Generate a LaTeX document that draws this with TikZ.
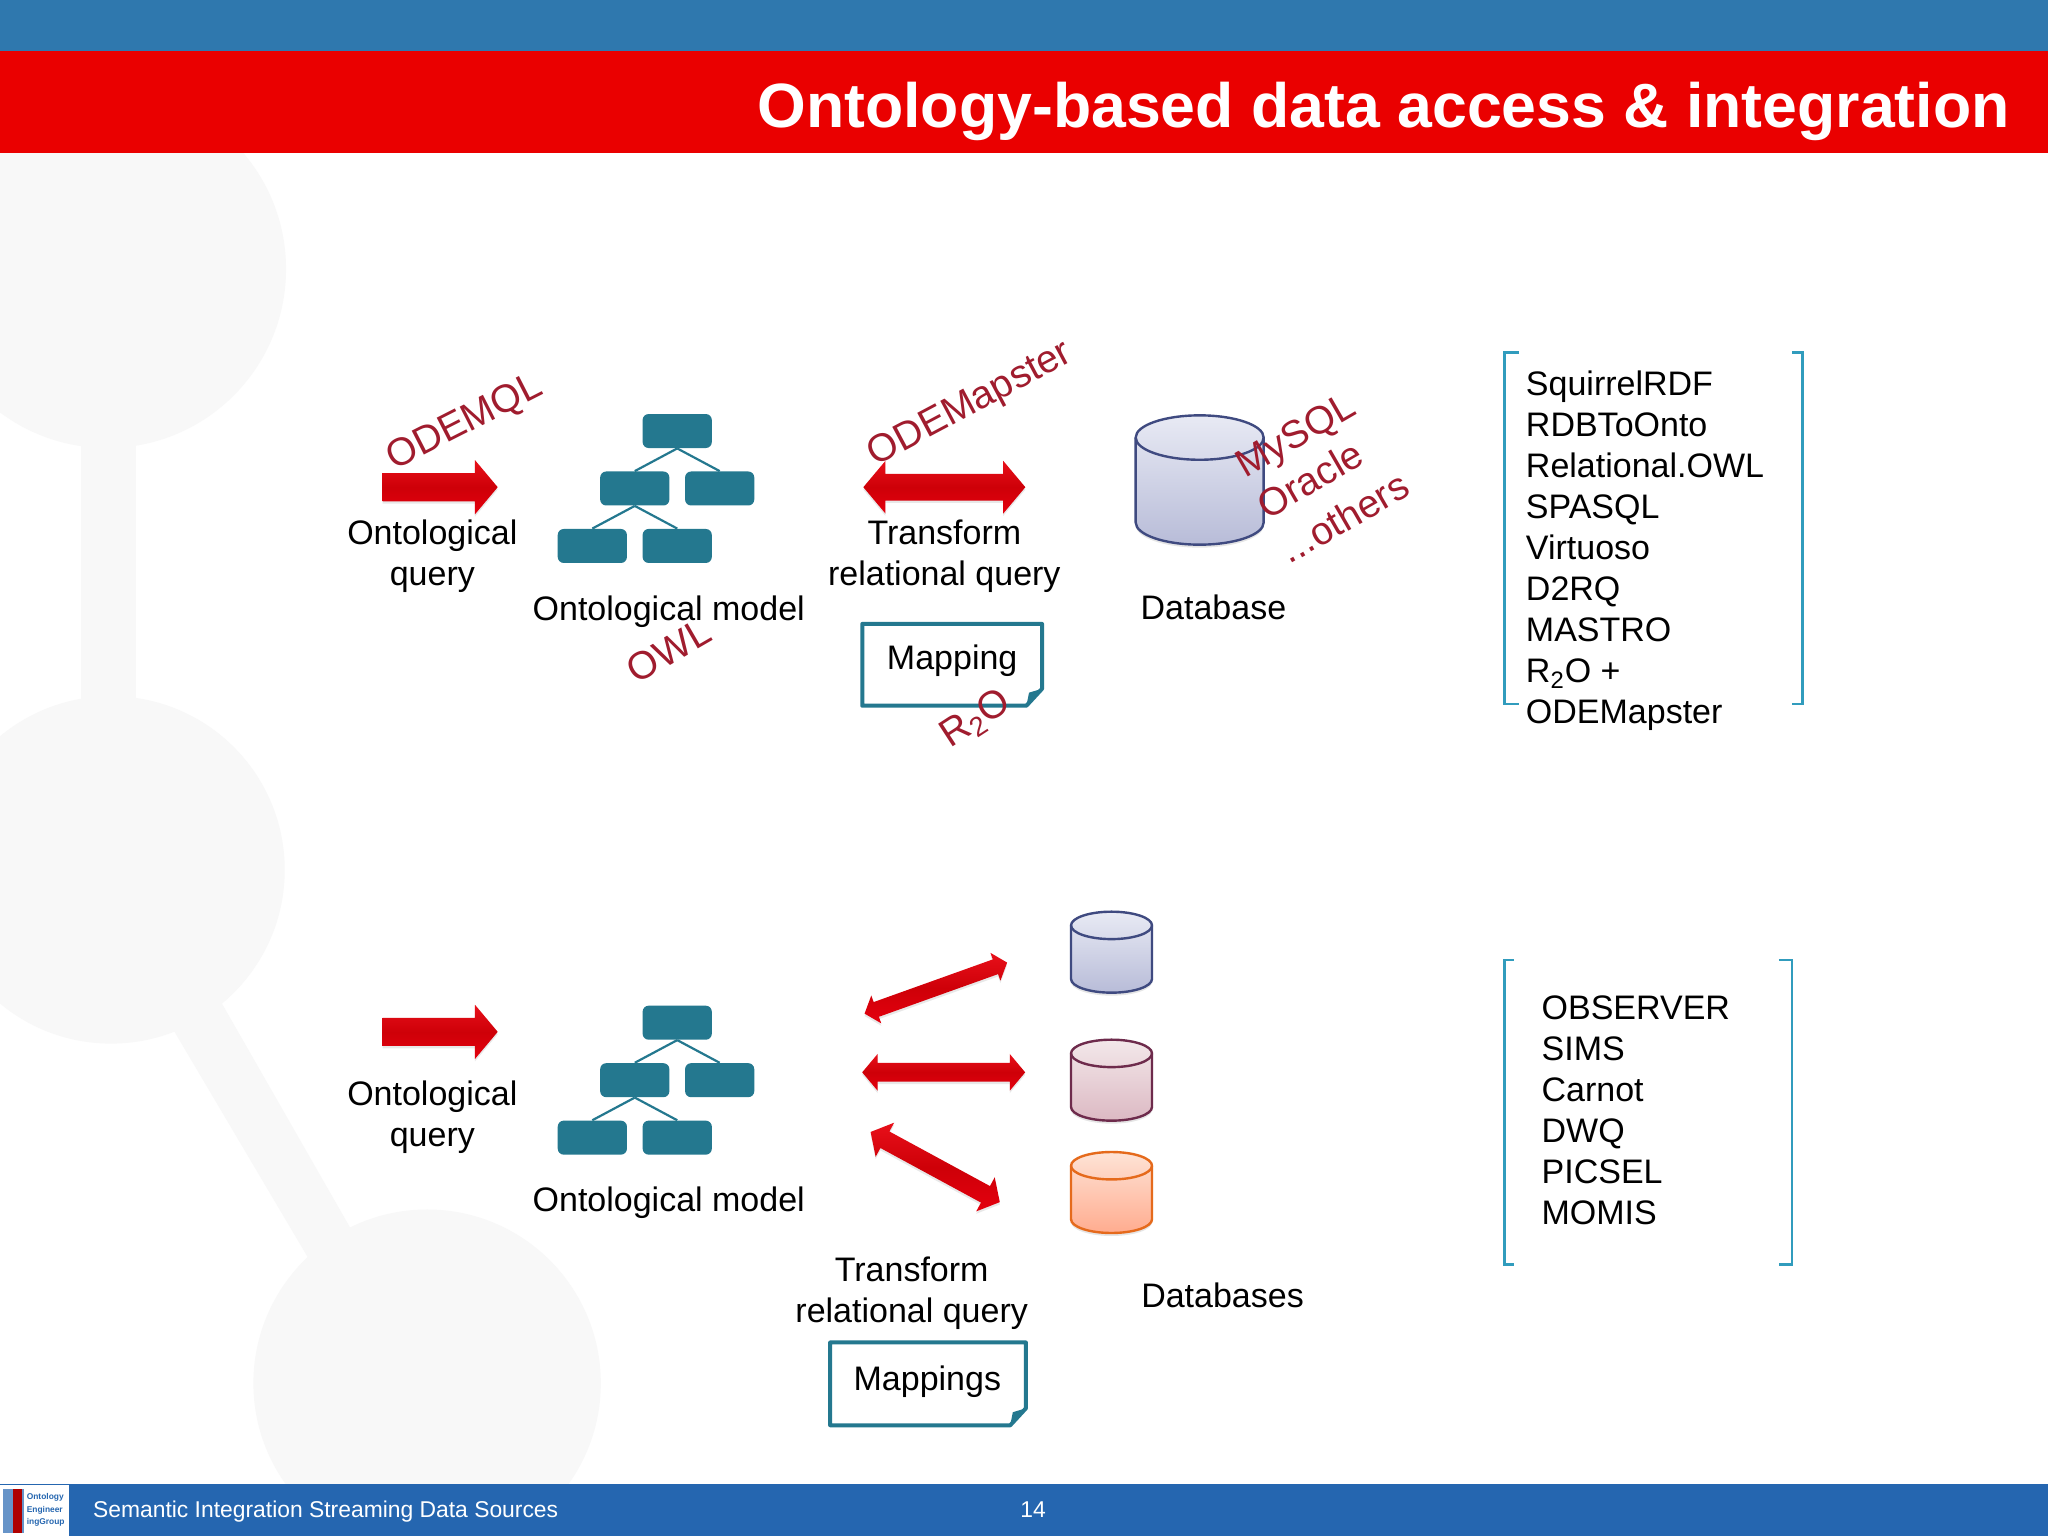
\documentclass[tikz,border=0pt]{standalone}
\usepackage{fontspec}
\setmainfont{Liberation Sans}
\usetikzlibrary{calc, shapes.arrows, shadows}
\definecolor{barblue}{HTML}{2F78AE}
\definecolor{barred}{HTML}{EA0000}
\definecolor{footblue}{HTML}{2566B0}
\definecolor{ghost}{HTML}{F8F8F8}
\definecolor{treeteal}{HTML}{24788F}
\definecolor{wine}{HTML}{A01C2E}
\definecolor{bracketblue}{HTML}{319CBD}
\definecolor{arrowtop}{HTML}{E8101A}
\definecolor{arrowmid}{HTML}{CE0008}
\definecolor{arrowlow}{HTML}{E4000E}
\definecolor{canblue}{HTML}{3F4A80}
\definecolor{canbluetop}{HTML}{E8EAF4}
\definecolor{canbluelow}{HTML}{B8BCD8}
\definecolor{canwine}{HTML}{6E2B4C}
\definecolor{canwinetop}{HTML}{F3E8EA}
\definecolor{canwinelow}{HTML}{DCB9C3}
\definecolor{canorange}{HTML}{E56A1C}
\definecolor{canorangetop}{HTML}{FEE3D6}
\definecolor{canorangelow}{HTML}{FFAC8F}
\tikzset{
    body/.style={font=\fontsize{17}{20.5}\selectfont, align=center, inner sep=0pt},
    listing/.style={font=\fontsize{17}{20.5}\selectfont, align=left, anchor=west, inner sep=0pt},
    tool/.style={font=\fontsize{19.5}{22}\selectfont, color=wine, rotate=#1, inner sep=0pt},
    treebox/.style={fill=treeteal, rounded corners=3pt, minimum width=34.6pt, minimum height=17pt, inner sep=0pt},
    treeline/.style={draw=treeteal, line width=1.1pt},
    docline/.style={draw=treeteal, line width=2pt, line join=round},
    brace/.style={draw=bracketblue, line width=1.2pt},
    redarrow/.style={inner sep=0pt, outer sep=0pt, text depth=0pt, text width=0pt, text height=#1,
        bottom color=arrowlow, top color=arrowtop, middle color=arrowmid,
        drop shadow={opacity=.18, shadow xshift=0pt, shadow yshift=-1.2pt}},
    oneway/.style 2 args={single arrow, redarrow=#1, single arrow head extend=#2,
        single arrow head indent=0pt, single arrow tip angle=100},
    twoway/.style 2 args={double arrow, redarrow=#1, double arrow head extend=#2,
        double arrow head indent=0pt, double arrow tip angle=100},
    ontotree/.pic={
        \node[treebox] (-root) at (0,0) {};
        \node[treebox] (-midl) at (-32.5,44) {};
        \node[treebox] (-midr) at (32.5,44) {};
        \node[treebox] (-lowl) at (-65,88) {};
        \node[treebox] (-lowr) at (0,88) {};
        \draw[treeline] (-root.south) -- (-midl.north);
        \draw[treeline] (-root.south) -- (-midr.north);
        \draw[treeline] (-midl.south) -- (-lowl.north);
        \draw[treeline] (-midl.south) -- (-lowr.north);
    }
}
\newcommand{\docfold}[1]{
    \draw[docline] (#1.north west) -- (#1.north east) -- ($(#1.south east)+(0,-13)$) -- ($(#1.south east)+(-12,0)$) -- (#1.south west) -- cycle;
    \fill[treeteal] ($(#1.south east)+(0,-13)$) -- ($(#1.south east)+(-12,0)$) -- ($(#1.south east)+(-10,-10)$) -- cycle;
}
\newcommand{\dbcan}[6]{
    \begin{scope}[shift={#2}]
        \coordinate (#1) at (0,0);
        \path[draw=#6, line width=1.2pt, top color=#6top, bottom color=#6low,
            drop shadow={opacity=.2, shadow xshift=0pt, shadow yshift=-1.5pt}]
            (-#3,-#5) arc (180:360:#3 and #4) -- (#3,#5) arc (0:180:#3 and #4) -- cycle;
        \draw[draw=#6, line width=1.2pt] (-#3,-#5) arc (180:0:#3 and #4);
    \end{scope}
}
\begin{document}
\begin{tikzpicture}[x=0.65306pt, y=-0.65306pt]
        \useasboundingbox (0,0) rectangle (1568,1176);
        \fill[white] (0,0) rectangle (1568,1176);

        \begin{scope}
            \clip (0,117) rectangle (1568,1136);
            \fill[ghost] (82,206) circle (137);
            \fill[ghost] (85,666) circle (133);
            \fill[ghost] (327,1059) circle (133);
            \fill[ghost] (62,330) rectangle (104,545);
            \fill[ghost] (123,772) -- (160,751) -- (275,952) -- (243,975) -- cycle;
        \end{scope}

        \fill[barblue] (0,0) rectangle (1568,39);
        \fill[barred] (0,39) rectangle (1568,117);
        \node[font=\fontsize{31.3}{36}\bfseries, color=white, anchor=east, inner sep=0pt] (title) at (1539,85) {Ontology-based data access \& integration};

        \fill[footblue] (0,1136) rectangle (1568,1176);
        \fill[white] (0,1137) rectangle (53,1176);
        \fill[footblue!70!white] (2,1140) rectangle (18,1174);
        \fill[barred!75!black] (10,1140) rectangle (17,1174);
        \node[font=\fontsize{4.2}{6.2}\bfseries, color=footblue, align=left, inner sep=0pt] (logo) at (35,1156) {Ontology\\Engineer\\ingGroup};
        \node[font=\fontsize{11.43}{13}\selectfont, color=white, anchor=west, inner sep=0pt] (footer) at (71,1157) {Semantic Integration Streaming Data Sources};
        \node[font=\fontsize{11.43}{13}\selectfont, color=white, inner sep=0pt] (page) at (791,1156) {14};

        \node[oneway={13.7pt}{6.5pt}, minimum height=57.5pt] (queryarrow) at (332.5,373) {};
        \node[body] (querytext) at (331,426) {Ontological\\query};
        \pic (model) at (518.5,330) {ontotree};
        \node[body] (modeltext) at (512,468) {Ontological model};
        \node[twoway={13pt}{6.5pt}, minimum height=81pt] (transformarrow) at (723,373) {};
        \node[body] (transformtext) at (723,426) {Transform\\relational query};
        \node[minimum width=89.5pt, minimum height=40.5pt, inner sep=0pt] (mapping) at (729,509) {};
        \node[body] (mappingtext) at (729,506) {Mapping};
        \docfold{mapping}
        \dbcan{database}{(918.5,367.5)}{49}{17}{32.5}{canblue}
        \node[body] (databasetext) at (929,465) {Database};

        \node[tool=27] (odemql) at (356,324) {ODEMQL};
        \node[tool=28] (odemapster) at (743,310) {ODEMapster};
        \node[tool=30] (owl) at (512,498) {OWL};
        \node[tool=33] (rtwoo) at (747,551) {R\textsubscript{2}O};
        \node[tool=30] (mysql) at (993,335) {MySQL};
        \node[tool=30] (oracle) at (1003,367) {Oracle};
        \node[tool=30] (others) at (1029,396) {...others};

        \draw[brace] (1163,270) -- (1152,270) -- (1152,539) -- (1163,539);
        \draw[brace] (1372,270) -- (1380,270) -- (1380,539) -- (1372,539);
        \node[listing] (toollist) at (1168,422) {SquirrelRDF\\RDBToOnto\\Relational.OWL\\SPASQL\\Virtuoso\\D2RQ\\MASTRO\\R\textsubscript{2}O +\\ODEMapster};

        \node[oneway={13.7pt}{6.5pt}, minimum height=57.5pt] (queryarrowb) at (332.5,790) {};
        \node[body] (querytextb) at (331,855) {Ontological\\query};
        \pic (modelb) at (518.5,783) {ontotree};
        \node[body] (modeltextb) at (512,921) {Ontological model};
        \node[twoway={7.4pt}{3.5pt}, minimum height=75.7pt, rotate=19.7] (uparrow) at (716.5,756.5) {};
        \node[twoway={9pt}{4.5pt}, minimum height=81.5pt] (flatarrow) at (722.5,821) {};
        \node[twoway={9pt}{5pt}, minimum height=73.5pt, rotate=-28.5] (downarrow) at (716,893.5) {};
        \dbcan{dbblue}{(851,729)}{31}{10.5}{20.5}{canblue}
        \dbcan{dbwine}{(851,827)}{31}{10.5}{20.5}{canwine}
        \dbcan{dborange}{(851,913)}{31}{10.5}{20.5}{canorange}
        \node[body] (transformtextb) at (698,990) {Transform\\relational query};
        \node[minimum width=97.5pt, minimum height=41pt, inner sep=0pt] (mappings) at (710.5,1059.5) {};
        \node[body] (mappingstext) at (710,1058) {Mappings};
        \docfold{mappings}
        \node[body] (databasestext) at (936,992) {Databases};

        \draw[brace] (1159,735) -- (1152,735) -- (1152,968) -- (1159,968);
        \draw[brace] (1362,735) -- (1372,735) -- (1372,968) -- (1362,968);
        \node[listing] (systemlist) at (1180,850) {OBSERVER\\SIMS\\Carnot\\DWQ\\PICSEL\\MOMIS};
\end{tikzpicture}
\end{document}
